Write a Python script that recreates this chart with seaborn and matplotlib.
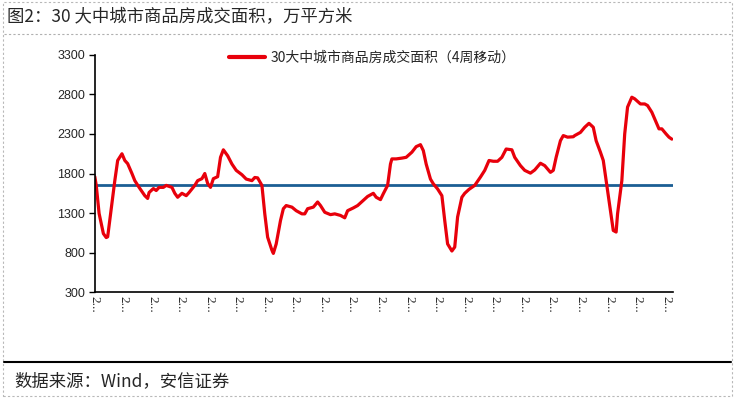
import numpy as np
import pandas as pd
import matplotlib
matplotlib.use("Agg")
import matplotlib.pyplot as plt
import seaborn as sns
from matplotlib.lines import Line2D
from matplotlib.patches import Rectangle

weeks = [0, 1, 3, 6, 8, 9, 12, 14, 16, 19, 21, 23, 26, 28, 31, 35, 37, 38, 41, 43,
         45, 48, 50, 54, 56, 58, 61, 64, 66, 70, 72, 75, 77, 79, 81, 83, 86, 88, 90, 93,
         96, 99, 103, 106, 110, 112, 114, 117, 119, 121, 124, 125, 127, 130, 132, 134, 138, 141, 145, 147,
         149, 153, 156, 158, 161, 165, 168, 172, 175, 177, 181, 184, 188, 191, 195, 197, 200, 202, 205, 207,
         208, 211, 215, 218, 222, 225, 228, 230, 232, 235, 237, 240, 243, 245, 247, 250, 252, 254, 257, 259,
         262, 266, 270, 273, 276, 279, 282, 285, 288, 292, 294, 298, 301, 305, 308, 312, 315, 319, 321, 323,
         326, 328, 331, 335, 336, 340, 343, 346, 349, 351, 354, 356, 358, 361, 363, 365, 366, 369, 371, 373,
         376, 378, 382, 385, 387, 390, 393, 395, 397, 400, 402, 404]
area = [1760, 1650, 1295, 1040, 990, 1000, 1420, 1710, 1965, 2050, 1965, 1925, 1800, 1710, 1625, 1520, 1485, 1560, 1610, 1585,
        1625, 1625, 1650, 1625, 1550, 1500, 1550, 1520, 1560, 1650, 1710, 1735, 1800, 1675, 1625, 1735, 1760, 2005, 2100, 2025,
        1920, 1840, 1785, 1730, 1710, 1750, 1745, 1650, 1290, 995, 830, 790, 910, 1205, 1355, 1395, 1375, 1330, 1290, 1290,
        1355, 1375, 1440, 1395, 1310, 1280, 1290, 1270, 1240, 1330, 1365, 1395, 1460, 1510, 1550, 1500, 1470, 1545, 1650, 1920,
        1985, 1985, 1995, 2005, 2070, 2140, 2165, 2090, 1920, 1730, 1670, 1605, 1520, 1205, 910, 820, 870, 1250, 1500, 1550,
        1600, 1650, 1755, 1840, 1965, 1955, 1955, 2005, 2110, 2100, 2005, 1900, 1840, 1805, 1845, 1930, 1900, 1815, 1840, 2005,
        2215, 2280, 2260, 2265, 2280, 2320, 2385, 2435, 2385, 2215, 2070, 1965, 1710, 1330, 1080, 1060, 1290, 1710, 2300, 2640,
        2765, 2745, 2680, 2680, 2660, 2575, 2450, 2365, 2365, 2300, 2260, 2235]
avg_level = 1660
series_name = "30大中城市商品房成交面积（4周移动）"
tick_weeks = list(range(0, 401, 20))
tick_labels = ["2..."] * len(tick_weeks)

df = pd.DataFrame({"week": weeks, "area": area})

sns.set_style("ticks")
plt.rcParams["font.family"] = ["Noto Sans CJK SC", "DejaVu Sans"]

fig = plt.figure(figsize=(7.35, 3.98), dpi=100)
ax = fig.add_axes([0.129, 0.266, 0.787, 0.596])

sns.lineplot(data=df, x="week", y="area", ax=ax, color="#e8000b", linewidth=2.3,
             label=series_name)
ax.axhline(avg_level, color="#1b5e94", linewidth=2.0, zorder=1)

ax.set_xlim(0, 405)
ax.set_ylim(300, 3300)
ax.set_yticks(range(300, 3301, 500))
ax.set_xticks(tick_weeks)
ax.set_xticklabels(tick_labels, rotation=-90, fontsize=9.5, family="Liberation Serif")
for lab in ax.get_yticklabels():
    lab.set_family("Liberation Sans")
    lab.set_fontsize(9)
ax.tick_params(axis="x", length=0, pad=3)
ax.tick_params(axis="y", length=4, width=1, color="black", pad=3)
ax.set_xlabel("")
ax.set_ylabel("")
sns.despine(ax=ax)
for s in ["left", "bottom"]:
    ax.spines[s].set_color("black")
    ax.spines[s].set_linewidth(1.2)

leg = ax.legend(loc="upper center", bbox_to_anchor=(0.48, 1.07), frameon=False,
                fontsize=10, handlelength=2.6, handletextpad=0.4)
for line in leg.get_lines():
    line.set_linewidth(3)

# page decorations
fig.text(0.01, 0.957, "图2：30 大中城市商品房成交面积，万平方米", fontsize=12.5,
         ha="left", va="center")
fig.add_artist(Line2D([0.005, 0.995], [0.915, 0.915], transform=fig.transFigure,
                      color="#b0b0b0", linewidth=0.8, linestyle=(0, (2, 2))))
fig.add_artist(Line2D([0.005, 0.995], [0.09, 0.09], transform=fig.transFigure,
                      color="black", linewidth=1.5))
fig.text(0.02, 0.043, "数据来源：Wind，安信证券", fontsize=12.5, ha="left", va="center")
fig.add_artist(Rectangle((0.004, 0.004), 0.992, 0.992, transform=fig.transFigure,
                         fill=False, edgecolor="#b8b8b8", linewidth=0.8,
                         linestyle=(0, (2, 2))))

fig.savefig("out.png", dpi=100)
